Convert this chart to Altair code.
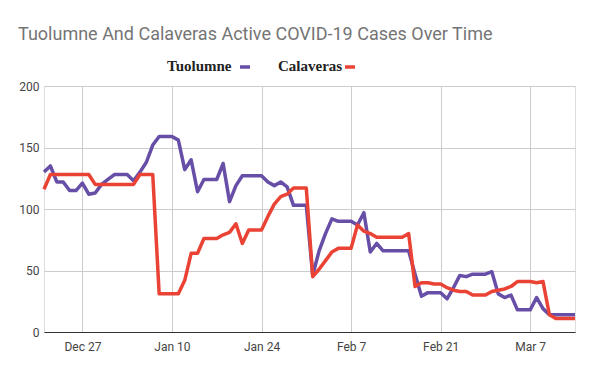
import altair as alt
import pandas as pd

# ---- data (daily, Dec 21 2020 .. Mar 14 2021) ----
dates = pd.date_range("2020-12-21", "2021-03-14", freq="D").strftime("%Y-%m-%d").tolist()

tuolumne = [130, 135, 122, 122, 115, 115, 121,
            112, 113, 120, 124, 128, 128, 128, 123,
            130, 138, 152, 159, 159, 159, 156, 132, 140,
            114, 124, 124, 124, 137, 106, 119, 127, 127, 127, 127,
            122, 119, 122, 118, 103, 103, 103,
            46, 66, 80, 92, 90, 90, 90, 87, 97,
            65, 72, 66, 66, 66, 66, 66, 47,
            29, 32, 32, 32, 27, 36, 46, 45, 47, 47, 47, 49,
            31, 28, 30, 18, 18, 18, 28, 19, 14, 14, 14, 14, 14]

calaveras = [116, 128, 128, 128, 128, 128, 128, 128,
             120, 120, 120, 120, 120, 120, 120,
             128, 128, 128,
             31, 31, 31, 31,
             42, 64, 64,
             76, 76, 76,
             79, 81, 88, 72, 83, 83, 83,
             94, 104, 110, 112, 117, 117, 117,
             45, 51, 58, 65, 68, 68, 68,
             87, 82, 80, 77, 77, 77, 77, 77, 80,
             37, 40, 40, 39, 39, 36, 34, 33, 33, 30, 30, 30, 33,
             34, 35, 37, 41, 41, 41, 40, 41, 14, 11, 11, 11, 11]

series_names = ["Tuolumne", "Calaveras"]
series_colors = ["#674ea7", "#ea4335"]
tick_dates = ["2020-12-27", "2021-01-10", "2021-01-24", "2021-02-07", "2021-02-21", "2021-03-07"]
y_ticks = [0, 50, 100, 150, 200]
title_text = "Tuolumne And Calaveras Active COVID-19 Cases Over Time"


def ms(d):
    return int(pd.Timestamp(d, tz="UTC").value // 10**6)


df = pd.DataFrame({
    "date": dates * 2,
    "series": [series_names[0]] * len(dates) + [series_names[1]] * len(dates),
    "cases": tuolumne + calaveras,
})

x_enc = alt.X(
    "date:T",
    scale=alt.Scale(type="utc", domain=[ms(dates[0]), ms(dates[-1])]),
    axis=alt.Axis(
        values=[ms(d) for d in tick_dates],
        labelExpr="utcFormat(datum.value, '%b %-d')",
        title=None, ticks=False, tickSize=0, labelPadding=9,
        grid=True, gridColor="#cccccc", gridWidth=1,
        domainColor="#333333", domainWidth=1.2,
        labelFont="Roboto", labelFontSize=12, labelColor="#444444",
    ),
)
y_enc = alt.Y(
    "cases:Q",
    scale=alt.Scale(domain=[0, 200], nice=False),
    axis=alt.Axis(
        values=y_ticks, title=None, ticks=False, tickSize=0, domain=False,
        labelPadding=5, gridColor="#cccccc", gridWidth=1,
        labelFont="Roboto", labelFontSize=12, labelColor="#444444",
    ),
)

layers = []
for name, color in zip(series_names, series_colors):
    layers.append(
        alt.Chart(df).transform_filter(alt.datum.series == name)
        .mark_line(strokeWidth=3.5, color=color, strokeJoin="round")
        .encode(x=x_enc, y=y_enc)
    )

# custom legend: label followed by a short line swatch
legend_x = [123, 234]
swatch_x = [196, 301]
for name, color, lx, sx in zip(series_names, series_colors, legend_x, swatch_x):
    layers.append(
        alt.Chart(pd.DataFrame({"label": [name]}))
        .mark_text(font="Liberation Serif", fontWeight="bold", fontSize=15,
                   color="#222222", align="left", baseline="alphabetic")
        .encode(text="label:N", x=alt.value(lx), y=alt.value(-15))
    )
    layers.append(
        alt.Chart(pd.DataFrame({"label": [name]}))
        .mark_rule(color=color, strokeWidth=3.5)
        .encode(x=alt.value(sx), x2=alt.value(sx + 10), y=alt.value(-19))
    )

chart = alt.layer(*layers).properties(
    width=531,
    height=246,
    autosize=alt.AutoSizeParams(type="none"),
    padding={"left": 36, "top": 78, "right": 17, "bottom": 30},
    title=alt.TitleParams(
        text=title_text, anchor="start", frame="group", dx=-26, dy=20,
        font="Roboto", fontSize=18, fontWeight="normal", color="#757575",
        baseline="alphabetic", offset=21,
    ),
).configure_view(stroke=None).configure(background="white")

chart.save("out.html", embed_options={"renderer": "svg", "actions": False})
